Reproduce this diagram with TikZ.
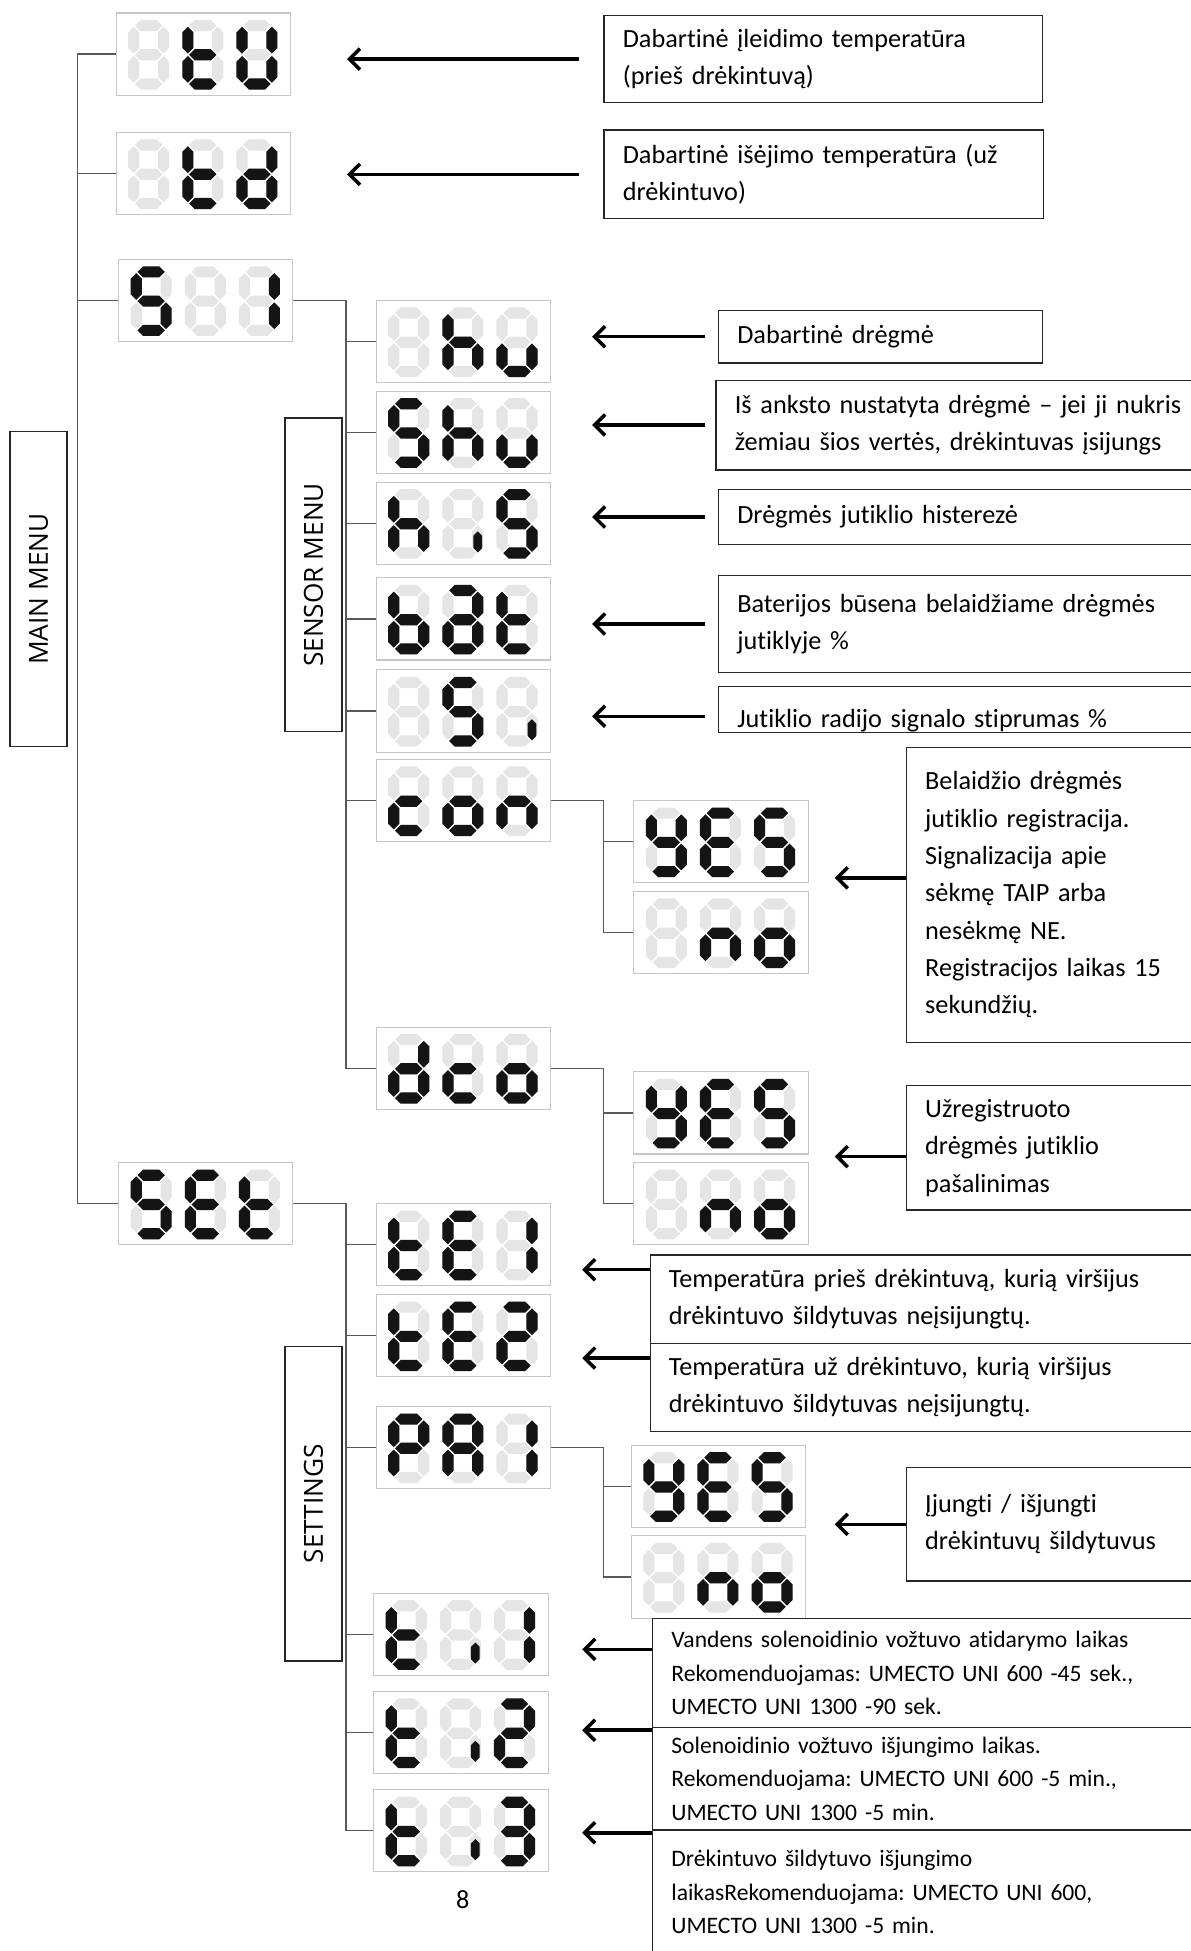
\documentclass[tikz,border=0pt]{standalone}
\usepackage{fontspec}
\setmainfont{Carlito}[Ligatures=NoCommon]
\newfontfamily\menufont{Open Sans}
\frenchspacing
\usepackage{tikz}
\usetikzlibrary{arrows.meta,positioning}
\tikzstyle{lcdbox} = [rectangle, draw=gray!45, line width=0.6pt, anchor=north west,
    minimum width=3.5cm, minimum height=1.65cm, inner sep=0pt]
\tikzstyle{note} = [rectangle, draw=black!85, line width=0.8pt, anchor=north west,
    align=left, inner xsep=0.375cm, font=\fontsize{15}{21.3}\selectfont]
\tikzstyle{smallnote} = [note, font=\fontsize{13.5}{19.2}\selectfont]
\tikzstyle{menu} = [rectangle, draw=black!85, line width=0.8pt, rotate=90,
    minimum height=1.15cm, font=\menufont\fontsize{15}{17}\selectfont]
\tikzstyle{link} = [draw=black!65, line width=0.7pt]
\tikzstyle{pointer} = [-{Straight Barb[length=6pt,width=12pt]}, line width=2pt, black]
\tikzstyle{segoff} = [fill=black!10]
\tikzstyle{segon} = [fill=black!92]

% segments of one digit cell, 33 x 56 units
\def\sega{(5.5,4.5) -- (10,0) -- (23,0) -- (27.5,4.5) -- (23,9) -- (10,9) -- cycle}
\def\segg{(5.5,28) -- (10,23.5) -- (23,23.5) -- (27.5,28) -- (23,32.5) -- (10,32.5) -- cycle}
\def\segd{(5.5,51.5) -- (10,47) -- (23,47) -- (27.5,51.5) -- (23,56) -- (10,56) -- cycle}
\def\segf{(4.5,5.5) -- (9,10) -- (9,22.5) -- (4.5,27) -- (0,22.5) -- (0,10) -- cycle}
\def\sege{(4.5,29) -- (9,33.5) -- (9,46) -- (4.5,50.5) -- (0,46) -- (0,33.5) -- cycle}
\def\segb{(28.5,5.5) -- (33,10) -- (33,22.5) -- (28.5,27) -- (24,22.5) -- (24,10) -- cycle}
\def\segc{(28.5,29) -- (33,33.5) -- (33,46) -- (28.5,50.5) -- (24,46) -- (24,33.5) -- cycle}
\def\segi{(28.5,34) -- (32,37.5) -- (32,47.5) -- (28.5,51) -- (25,47.5) -- (25,37.5) -- cycle}
\def\segz{}

\newcommand{\lcdchar}[3]{%
  \begin{scope}[shift={(#1.north west)}, shift={(#2,6)}]
    \foreach \s in {a,b,c,d,e,f,g} \fill[segoff] \csname seg\s\endcsname;
    \foreach \s in {#3} \fill[segon] \csname seg\s\endcsname;
  \end{scope}}
\newcommand{\lcd}[4]{\lcdchar{#1}{10}{#2}\lcdchar{#1}{53.5}{#3}\lcdchar{#1}{97}{#4}}

\begin{document}
\begin{tikzpicture}[x=0.025cm, y=-0.025cm]
  \useasboundingbox (0,0) rectangle (957,1568);
  % Place nodes
  \node [lcdbox] (tU) at (93,10) {};
  \node [lcdbox] (td) at (93,106) {};
  \node [lcdbox] (S1) at (95,208) {};
  \node [lcdbox] (hu) at (302,241) {};
  \node [lcdbox] (Shu) at (302,314) {};
  \node [lcdbox] (hiS) at (302,387) {};
  \node [lcdbox] (bAt) at (302,464) {};
  \node [lcdbox] (Si) at (302,538) {};
  \node [lcdbox] (con) at (302,610) {};
  \node [lcdbox] (yesA) at (509,643) {};
  \node [lcdbox] (noA) at (509,716) {};
  \node [lcdbox] (dco) at (302,825) {};
  \node [lcdbox] (yesB) at (509,861) {};
  \node [lcdbox] (noB) at (509,934) {};
  \node [lcdbox] (SEt) at (95,934) {};
  \node [lcdbox] (tE1) at (302,967) {};
  \node [lcdbox] (tE2) at (302,1040) {};
  \node [lcdbox] (PA1) at (302,1130) {};
  \node [lcdbox] (yesC) at (507,1161) {};
  \node [lcdbox] (noC) at (507,1234) {};
  \node [lcdbox] (ti1) at (300,1280) {};
  \node [lcdbox] (ti2) at (300,1359) {};
  \node [lcdbox] (ti3) at (300,1438) {};
  % Digits
  \lcd{tU}{z}{d,e,f,g}{b,c,d,e,f}
  \lcd{td}{z}{d,e,f,g}{b,c,d,e,g}
  \lcd{S1}{a,c,d,f,g}{z}{b,c}
  \lcd{hu}{z}{c,e,f,g}{c,d,e}
  \lcd{Shu}{a,c,d,f,g}{c,e,f,g}{c,d,e}
  \lcd{hiS}{c,e,f,g}{i}{a,c,d,f,g}
  \lcd{bAt}{c,d,e,f,g}{a,b,c,d,e,g}{d,e,f,g}
  \lcd{Si}{z}{a,c,d,f,g}{i}
  \lcd{con}{d,e,g}{c,d,e,g}{c,e,g}
  \lcd{yesA}{b,c,d,f,g}{a,d,e,f,g}{a,c,d,f,g}
  \lcd{noA}{z}{c,e,g}{c,d,e,g}
  \lcd{dco}{b,c,d,e,g}{d,e,g}{c,d,e,g}
  \lcd{yesB}{b,c,d,f,g}{a,d,e,f,g}{a,c,d,f,g}
  \lcd{noB}{z}{c,e,g}{c,d,e,g}
  \lcd{SEt}{a,c,d,f,g}{a,d,e,f,g}{d,e,f,g}
  \lcd{tE1}{d,e,f,g}{a,d,e,f,g}{b,c}
  \lcd{tE2}{d,e,f,g}{a,d,e,f,g}{a,b,d,e,g}
  \lcd{PA1}{a,b,e,f,g}{a,b,c,e,f,g}{b,c}
  \lcd{yesC}{b,c,d,f,g}{a,d,e,f,g}{a,c,d,f,g}
  \lcd{noC}{z}{c,e,g}{c,d,e,g}
  \lcd{ti1}{d,e,f,g}{i}{b,c}
  \lcd{ti2}{d,e,f,g}{i}{a,b,d,e,g}
  \lcd{ti3}{d,e,f,g}{i}{a,b,c,d,g}
  % Menus
  \node [menu, minimum width=6.325cm] (mainmenu) at (31,473.5) {MAIN MENU};
  \node [menu, minimum width=6.3cm] (sensormenu) at (252,462) {SENSOR MENU};
  \node [menu, minimum width=6.325cm] (settings) at (252,1208.5) {SETTINGS};
  % Descriptions
  \node [note, text width=8.05cm, minimum height=1.75cm] (descTU) at (485,12)
  {Dabartinė įleidimo temperatūra\\(prieš drėkintuvą)};
  \node [note, text width=8.075cm, minimum height=1.775cm] (descTD) at (485,104)
  {Dabartinė išėjimo temperatūra (už\\drėkintuvo)};
  \node [note, text width=5.75cm, minimum height=1.05cm] (descHU) at (577,249)
  {Dabartinė drėgmė};
  \node [note, text width=9.25cm, minimum height=1.8cm] (descSHU) at (575,305)
  {Iš anksto nustatyta drėgmė – jei ji nukris\\žemiau šios vertės, drėkintuvas įsijungs};
  \node [note, text width=9.25cm, minimum height=1.1cm] (descHIS) at (577,393)
  {Drėgmės jutiklio histerezė};
  \node [note, text width=9.25cm, minimum height=1.95cm] (descBAT) at (577,462)
  {Baterijos būsena belaidžiame drėgmės\\jutiklyje \%};
  \node [note, text width=9.25cm, text height=0.725cm, text depth=0pt, inner ysep=0.1cm]
  (descSI) at (577,551) {Jutiklio radijo signalo stiprumas \%};
  \node [note, text width=5.5cm, minimum height=5.925cm] (descCON) at (728,600)
  {Belaidžio drėgmės\\jutiklio registracija.\\Signalizacija apie\\sėkmę TAIP arba\\nesėkmę NE.\\Registracijos laikas 15\\sekundžių.};
  \node [note, text width=5.5cm, minimum height=2.5cm] (descDCO) at (728,872)
  {Užregistruoto\\drėgmės jutiklio\\pašalinimas};
  \node [note, text width=10.5cm, minimum height=1.775cm] (descTE1) at (522,1008)
  {Temperatūra prieš drėkintuvą, kurią viršijus\\drėkintuvo šildytuvas neįsijungtų.};
  \node [note, text width=10.5cm, minimum height=1.775cm] (descTE2) at (522,1079)
  {Temperatūra už drėkintuvo, kurią viršijus\\drėkintuvo šildytuvas neįsijungtų.};
  \node [note, text width=5.5cm, minimum height=2.275cm] (descPA1) at (728,1179)
  {Įjungti / išjungti\\drėkintuvų šildytuvus};
  \node [smallnote, text width=10.5cm, minimum height=2.2cm] (descTI1) at (524,1300)
  {Vandens solenoidinio vožtuvo atidarymo laikas\\Rekomenduojamas: UMECTO UNI 600 -45 sek.,\\UMECTO UNI 1300 -90 sek.};
  \node [smallnote, text width=10.5cm, minimum height=2.05cm] (descTI2) at (524,1388)
  {Solenoidinio vožtuvo išjungimo laikas.\\Rekomenduojama: UMECTO UNI 600 -5 min.,\\UMECTO UNI 1300 -5 min.};
  \node [smallnote, text width=10.5cm, minimum height=2.5cm] (descTI3) at (524,1470)
  {Drėkintuvo šildytuvo išjungimo\\laikasRekomenduojama: UMECTO UNI 600,\\UMECTO UNI 1300 -5 min.};
  \node [font=\fontsize{15}{17}\selectfont] (pagenum) at (372,1527) {8};
  % Draw edges
  \coordinate (mbus) at (62,0);
  \coordinate (sbus) at (278,0);
  \coordinate (cbus) at (485,0);
  \draw [link] (tU.west) -| (mbus |- SEt.west) -- (SEt.west);
  \foreach \n in {td,S1} \draw [link] (\n.west) -- (\n.west -| mbus);
  \draw [link] (S1.east) -| (sbus |- dco.west) -- (dco.west);
  \foreach \n in {hu,Shu,hiS,bAt,Si,con} \draw [link] (\n.west) -- (\n.west -| sbus);
  \draw [link] (con.east) -| (cbus |- noA.west) -- (noA.west);
  \draw [link] (yesA.west) -- (yesA.west -| cbus);
  \draw [link] (dco.east) -| (cbus |- noB.west) -- (noB.west);
  \draw [link] (yesB.west) -- (yesB.west -| cbus);
  \draw [link] (SEt.east) -| (sbus |- ti3.west) -- (ti3.west);
  \foreach \n in {tE1,tE2,PA1,ti1,ti2} \draw [link] (\n.west) -- (\n.west -| sbus);
  \draw [link] (PA1.east) -| (cbus |- noC.west) -- (noC.west);
  \draw [link] (yesC.west) -- (yesC.west -| cbus);
  % Arrows
  \draw [pointer, shorten <=0.5cm, shorten >=1.125cm] (descTU.west) -- (descTU.west -| tU.east);
  \draw [pointer, shorten <=0.5cm, shorten >=1.125cm] (descTD.west) -- (descTD.west -| td.east);
  \draw [pointer, shorten <=0.25cm, shorten >=0.825cm] (descHU.west) -- (descHU.west -| hu.east);
  \draw [pointer, shorten <=0.2cm, shorten >=0.825cm] (descSHU.west) -- (descSHU.west -| Shu.east);
  \draw [pointer, shorten <=0.25cm, shorten >=0.825cm] (descHIS.west) -- (descHIS.west -| hiS.east);
  \draw [pointer, shorten <=0.25cm, shorten >=0.825cm] (descBAT.west) -- (descBAT.west -| bAt.east);
  \draw [pointer, shorten <=0.25cm, shorten >=0.825cm] ([yshift=-0.14cm]descSI.west) -- ([yshift=-0.14cm]descSI.west -| Si.east);
  \draw [pointer, shorten >=0.525cm] ([yshift=0.34cm]descCON.west) -- ([yshift=0.34cm]descCON.west -| yesA.east);
  \draw [pointer, shorten >=0.525cm] ([yshift=-0.175cm]descDCO.west) -- ([yshift=-0.175cm]descDCO.west -| yesB.east);
  \draw [pointer, shorten >=0.625cm] ([yshift=0.59cm]descTE1.west) -- ([yshift=0.59cm]descTE1.west -| tE1.east);
  \draw [pointer, shorten >=0.625cm] ([yshift=0.59cm]descTE2.west) -- ([yshift=0.59cm]descTE2.west -| tE2.east);
  \draw [pointer, shorten >=0.575cm] (descPA1.west) -- (descPA1.west -| yesC.east);
  \draw [pointer, shorten >=0.675cm] ([yshift=0.475cm]descTI1.west) -- ([yshift=0.475cm]descTI1.west -| ti1.east);
  \draw [pointer, shorten >=0.675cm] ([yshift=0.975cm]descTI2.west) -- ([yshift=0.975cm]descTI2.west -| ti2.east);
  \draw [pointer, shorten >=0.675cm] ([yshift=-0.075cm]descTI3.north west) -- ([yshift=-0.075cm]descTI3.north west -| ti3.east);
\end{tikzpicture}
\end{document}
